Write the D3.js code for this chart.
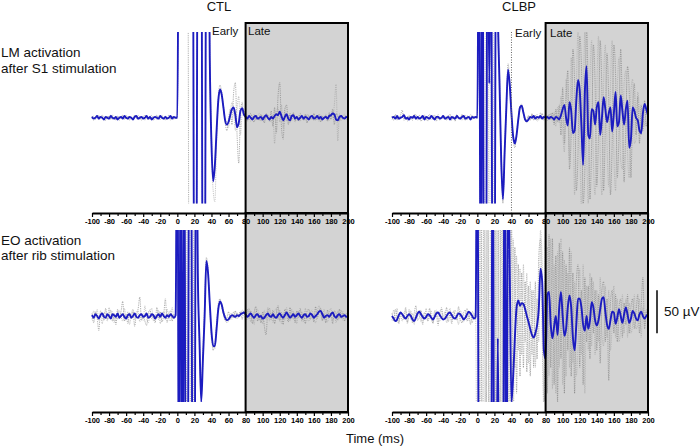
<!DOCTYPE html>
<head>
    <meta charset="utf-8">
    <title>LM / EO activation traces</title>
    <script src="https://d3js.org/d3.v7.min.js"></script>
    <style>
        body { margin: 0; background: #fff; }
        svg text { font-family: "Liberation Sans", Arial, sans-serif; }
    </style>
</head>

<body>
    <div id="home"></div>

    <script>
        // sample times (ms), one value every 2 ms from -100 to 200
        const sampleTimes = d3.range(-100, 201, 2);
        const majorTicks = [-100, -80, -60, -40, -20, 0, 20, 40, 60, 80, 100, 120, 140, 160, 180, 200];
        const minorTicks = [-90, -70, -50, -30, -10, 10, 30, 50, 70, 90, 110, 130, 150, 170, 190];

        // values in µV (±300 = off scale, stimulus artefact)
        // LM, CTL
        const lmCtlMean = [
            1,-1,0,2,-1,1,0,-2,1,0, -1,2,0,-1,1,-2,0,1,-1,2, 0,-1,1,0,-2,1,2,-1,0,1, -1,0,2,-1,1,-2,0,1,0,-1, 2,0,-1,1,-1,0,2,-1,1,0,
            0,300,300,300,300,300,300,300,300,300, -300,-300,300,300,300,-300,-300,300,300,70, -30,-74,-55,-15,20,33,27,12,-3,-8, -5,3,10,12,3,-11,-6,8,11,4,
            1,-1,2,0,-2,1,2,-1,0,1, -2,1,3,0,-2,1,-1,2,4,3, 7,2,-3,1,4,-1,-3,2,3,-1, 1,-2,0,2,-1,1,0,-2,1,2, -1,0,2,-1,1,-2,0,1,-1,2, 3,5,4,-2,-3,1,2,0,-1,1,0
        ];
        const lmCtlTrialA = [
            2,-3,1,3,-2,0,3,-1,-3,2, 1,-2,3,0,-3,2,-1,1,3,-2, 0,2,-3,1,-1,3,0,-2,2,-3, 1,3,-1,-2,2,0,-3,1,3,-1, -2,2,1,-3,0,3,-1,2,-2,1,
            0,300,300,300,300,300,300,-300,-300,-300, -300,-300,300,300,300,-300,-300,300,300,80, -20,-70,-60,-20,25,38,30,15,-5,-15, -2,10,-8,30,41,-20,-53,5,18,2,
            3,-4,2,5,-2,-5,3,1,-3,4, -1,-6,5,2,-4,8,-10,12,-18,25, 41,-10,-25,10,15,-8,5,-3,6,-5, 2,-4,5,1,-3,4,-6,3,0,-2, 5,-3,1,4,-5,2,-1,3,-4,6, -2,10,-8,5,2,-4,3,-2,1,2,-1
        ];
        const lmCtlTrialB = [
            -1,2,-2,0,3,-1,1,-3,2,-1, 0,3,-2,1,-1,2,-3,0,2,-1, 3,-2,0,1,-3,2,-1,3,-2,0, 1,-3,2,1,-2,3,-1,0,-2,2, 3,-1,-2,2,-1,1,-3,2,0,-1,
            0,300,300,300,300,300,300,300,300,300, -300,-300,300,300,300,-300,-300,300,300,60, -40,-85,-98,-30,15,30,25,10,-2,-5, -12,5,18,8,-15,10,25,-20,5,10,
            -2,3,-1,-4,2,4,-3,2,5,-4, 2,-3,1,4,-2,-5,3,-30,5,12, -5,15,-12,8,-4,3,-6,2,5,-3, 1,3,-4,2,-1,-3,4,1,-2,3, -3,2,-1,-4,3,1,-2,4,-1,-3, 2,0,15,39,-27,5,-3,2,4,-2,1
        ];

        // EO, CTL
        const eoCtlMean = [
            1,-2,2,0,-3,1,3,-1,-2,2, 0,-3,2,1,-1,3,-2,0,2,-1, -3,1,2,-2,0,3,-1,-2,1,2, -1,0,3,-2,-1,2,1,-3,0,2, -1,3,0,-2,1,-1,2,0,-2,1,
            300,-300,300,-300,300,-300,-300,300,300,-300, -300,300,50,-30,-100,-50,0,64,50,15, -18,-35,-35,-15,8,17,13,4,-2,-5, -4,-1,1,0,-1,1,0,2,3,4,
            2,-1,1,3,0,-2,1,2,-1,0, -3,-2,1,3,0,-1,2,-1,-2,1, 3,0,-2,1,4,1,-2,0,2,-1, 1,3,0,-2,1,2,-1,0,3,1, -2,0,2,5,6,2,-2,0,1,-1, 2,4,0,-2,1,2,-1,0,1,-1,0
        ];
        const eoCtlTrialA = [
            3,-8,5,-2,-17,6,2,-5,9,-4, 1,7,-6,3,-10,8,-3,5,17,-6, 2,-9,4,-2,6,-12,3,8,22,-5, 1,-6,-11,4,7,-3,2,-8,10,-4, 5,-7,1,20,-8,3,6,-6,2,0,
            300,-300,300,-300,300,-300,300,300,-300,-300, 300,300,60,-40,-90,-40,15,68,55,12, -22,-40,-30,-8,14,20,10,2,-6,-3, 5,-4,3,-2,6,-3,2,5,-4,6,
            -5,8,-3,6,-9,4,11,-6,3,-8, 5,-12,-22,6,9,-4,7,-9,3,12, -6,4,-10,8,2,-7,10,-3,5,-8, 6,-2,9,-6,3,-9,5,8,-4,2, -7,11,-3,6,9,-5,2,-8,7,-2, 4,-9,6,3,-5,8,-3,5,-6,3,-2
        ];
        const eoCtlTrialB = [
            -4,6,-2,8,-5,1,-9,4,3,-6, 10,-3,5,-8,2,-4,7,-1,-6,9, -3,5,-10,2,8,-4,-2,6,-7,3, -5,12,-2,-8,4,9,-6,1,-3,7, -9,2,5,-4,8,-2,-6,10,-3,1,
            300,-300,300,-300,300,-300,-300,300,300,-300, -300,300,40,-20,-95,-55,5,58,48,8, -28,-33,-38,-12,9,16,15,7,1,-8, -6,3,-4,5,-3,4,-2,1,7,3,
            6,-4,9,-7,3,-10,5,8,-5,2, -9,7,-4,10,-6,3,-8,5,9,-4, 7,-9,3,-5,10,-2,-6,8,-4,3, -9,6,-2,5,-7,9,-3,-6,4,7, -4,-8,5,12,3,-6,8,-3,-7,4, 9,-5,2,-8,6,-3,7,-5,3,-4,2
        ];

        // LM, CLBP
        const lmClbpMean = [
            0,1,-1,2,-1,0,1,3,-1,0, -2,1,0,2,-1,1,-1,0,2,-2, 1,0,-1,2,0,-2,1,1,-1,0, 2,-1,0,1,-2,1,0,-1,2,0, -1,1,2,-1,0,1,-2,1,0,1,
            0,300,-300,300,-300,-300,300,40,300,-300, -300,300,125,40,-50,-95,-40,12,56,38, 5,-22,-30,-20,-2,12,14,6,-2,-4, -2,1,0,2,-1,1,0,2,-1,1,
            0,1,-1,1,0,-2,1,0,-2,3, 10,15,0,-9,18,8,-18,-15,20,44, 32,-10,-55,30,60,-20,-24,10,8,-8, 12,18,-20,0,24,10,-5,5,12,-16, 5,30,-10,-5,26,8,-8,10,20,-35, -25,12,8,0,-3,-15,-18,5,16,10,3
        ];
        const lmClbpTrialA = [
            2,-3,4,-1,-2,3,9,-3,1,-4, 2,0,-3,4,-2,1,3,-4,0,2, -3,1,4,-2,-1,3,-4,2,0,-2, 3,-1,-3,2,4,-2,1,-4,3,0, -2,4,-1,-3,2,1,-2,3,-1,2,
            0,300,-300,300,-300,-300,300,60,300,-300, -300,300,140,50,-45,-100,-35,20,63,42, 8,-25,-35,-18,0,15,12,4,-4,-2, 2,-3,4,-2,3,-4,2,-1,5,-3,
            2,-3,4,-2,6,-8,10,-5,15,-20, 35,-30,20,55,-60,-20,80,40,-85,-40, 95,60,-100,-60,110,20,-95,-30,85,40, -80,-20,90,30,-85,-10,75,20,-90,-30, 85,50,-70,-20,80,10,-75,-10,60,30, -70,10,40,-20,25,-30,15,-15,20,-10,5
        ];
        const lmClbpTrialB = [
            -2,1,3,-3,2,-1,0,4,-2,1, 3,-2,-1,2,4,-3,0,1,-2,3, 2,-4,1,0,3,-1,-2,4,-3,1, 0,2,-2,3,-1,-3,2,0,4,-2, 1,-3,2,3,-2,-1,4,-2,1,-1,
            0,300,300,-300,-300,300,300,-300,300,300, -300,300,110,30,-60,-90,-45,5,50,35, 0,-20,-28,-22,-5,10,16,8,0,-6, 3,-2,5,-3,2,4,-3,6,-2,3,
            0,3,-2,5,-4,6,-10,12,-6,25, -15,-40,45,10,-50,70,15,-90,30,100, -20,-110,10,100,-30,-100,40,90,-50,-90, 30,95,-40,-90,40,85,-30,-80,35,90, -40,-85,30,70,-50,-60,40,55,-40,-70, 30,45,-30,-25,30,10,-20,8,-10,6,-3
        ];

        // EO, CLBP
        const eoClbpMean = [
            0,-3,-6,-4,1,4,2,-1,-3,0, 2,0,-4,-6,-2,3,5,2,-1,-3, -1,2,1,-2,-4,-1,3,4,1,-2, -4,-3,0,3,4,1,-2,-3,0,3, 2,-1,-4,-2,2,5,3,0,-3,-1,
            300,-300,-300,-300,-300,-300,-300,-300,-300,300, -300,-300,-26,-300,-300,-300,300,-300,200,50, -100,-70,-25,10,18,12,15,14,8,0, -7,-15,-22,-25,-20,-11,8,55,40,-40,
            -50,25,28,-10,-26,-12,0,-22,10,28, 0,-23,-15,10,24,10,-25,-40,-10,20, 20,10,-10,-17,0,-15,-5,16,10,-5, -11,-5,8,20,22,5,-10,-15,-5,5, 4,-9,-2,8,0,-8,2,10,2,-8, -3,6,3,-3,-5,2,5,0,-3,0,2
        ];
        const eoClbpTrialA = [
            3,-6,8,-2,-9,5,2,-4,10,-7, 0,6,-8,3,12,-5,-2,7,-10,4, 1,-6,9,-3,-8,6,2,-11,5,8, -4,-1,10,-7,3,-9,6,0,-5,11, -3,-8,4,7,-6,2,-10,5,3,-4,
            300,-300,300,-300,300,-300,300,-300,300,-300, 300,-300,300,-300,250,-280,200,-250,180,-200, 120,-150,80,-90,60,-70,50,-60,40,-65, 35,-70,30,-60,40,-50,70,90,-20,-110,
            100,-90,95,-60,90,-80,70,-100,85,-50, 75,-90,60,-40,80,-70,50,-90,40,60, -60,30,-80,45,-30,35,-50,45,-20,30, -40,25,-55,30,40,-30,20,-75,15,30, -20,25,-30,10,20,-25,15,-10,25,-20, 10,20,-15,5,25,-20,10,45,-15,5,0
        ];
        const eoClbpTrialB = [
            -5,7,-3,9,-8,2,-6,4,6,-9, 8,-4,3,-10,5,-1,7,-7,2,-3, 9,-5,-2,6,-9,3,7,-4,-6,10, -2,5,-8,2,9,-5,-3,7,-1,-10, 6,3,-7,1,9,-5,4,-8,2,0,
            -300,300,-300,300,300,-300,300,-300,-300,300, -300,300,-300,300,-300,150,-200,250,-160,140, -120,90,-60,70,-40,55,-45,60,-30,50, -55,40,-45,30,-60,20,-30,100,60,-90,
            -100,80,-70,90,-85,60,-90,75,-60,90, -80,65,-70,50,-60,75,-55,40,-70,-30, 55,-45,60,-90,35,-40,50,-35,40,-45, 30,-30,45,-20,-35,35,-25,30,-40,-10, 35,-25,20,-30,-15,25,-20,20,-25,15, -20,-10,25,-15,-10,20,-25,10,-10,8,-3
        ];

        const w = 700;
        const h = 447;

        const svg = d3.select("#home")
                      .append("svg")
                      .attr("width", w)
                      .attr("height", h)

        const xLeft = d3.scaleLinear().domain([-100, 200]).range([92, 348]);
        const xRight = d3.scaleLinear().domain([-100, 200]).range([392, 648]);
        const yTop = d3.scaleLinear().domain([-100, 100]).range([203.5, 32]);
        const yBottom = d3.scaleLinear().domain([-100, 100]).range([402, 230]);

        const panels = [
            {id: "lmctl", x: xLeft, y: yTop, axisY: 213, shadeTop: 23, mean: lmCtlMean, trials: [lmCtlTrialA, lmCtlTrialB]},
            {id: "lmclbp", x: xRight, y: yTop, axisY: 213, shadeTop: 23, mean: lmClbpMean, trials: [lmClbpTrialA, lmClbpTrialB]},
            {id: "eoctl", x: xLeft, y: yBottom, axisY: 412, shadeTop: 213, mean: eoCtlMean, trials: [eoCtlTrialA, eoCtlTrialB]},
            {id: "eoclbp", x: xRight, y: yBottom, axisY: 412, shadeTop: 213, mean: eoClbpMean, trials: [eoClbpTrialA, eoClbpTrialB]}
        ];

        //Late window shading (fill first, border drawn last)
        panels.forEach(function(p){
            svg.append("rect")
               .attr("x", p.x(80))
               .attr("y", p.shadeTop)
               .attr("width", p.x(200) - p.x(80))
               .attr("height", p.axisY - p.shadeTop)
               .style("fill", "#d3d3d3")
        });

        //Traces
        panels.forEach(function(p){
            svg.append("clipPath")
               .attr("id", "clip-" + p.id)
               .append("rect")
               .attr("x", p.x(-100) - 2)
               .attr("y", p.y(100))
               .attr("width", p.x(200) - p.x(-100) + 4)
               .attr("height", p.y(-100) - p.y(100))

            const line = d3.line()
                           .x((d, i) => p.x(sampleTimes[i]))
                           .y((d) => p.y(d))
                           .curve(d3.curveMonotoneX)

            const g = svg.append("g").attr("clip-path", "url(#clip-" + p.id + ")")

            p.trials.forEach(function(tr, k){
                g.append("path")
                 .attr("d", line(tr))
                 .style("fill", "none")
                 .style("stroke", k === 0 ? "#7a7a7a" : "#a2a2a2")
                 .style("stroke-width", 0.6)
                 .style("stroke-dasharray", "1.2,1")
            });

            g.append("path")
             .attr("d", line(p.mean))
             .style("fill", "none")
             .style("stroke", "#1c1cc0")
             .style("stroke-width", 1.9)
             .style("stroke-linejoin", "round")
        });

        //Axes
        panels.forEach(function(p){
            const axis = svg.append("g")
                            .attr("transform", "translate(0," + p.axisY + ")")
                            .call(d3.axisBottom(p.x).tickValues(majorTicks).tickSize(4).tickSizeOuter(0).tickPadding(2)
                                    .tickFormat((d) => String(d)))
                            .attr("font-size", 7.5)
                            .attr("font-weight", "bold")
                            .attr("font-family", "'Liberation Sans', Arial, sans-serif")
            axis.select(".domain").attr("stroke-width", 1.8)
            axis.selectAll(".tick line").attr("stroke-width", 1.2)

            const minor = svg.append("g")
                             .attr("transform", "translate(0," + p.axisY + ")")
                             .call(d3.axisBottom(p.x).tickValues(minorTicks).tickSize(3).tickFormat(""))
            minor.select(".domain").remove()
            minor.selectAll(".tick line").attr("stroke-width", 1.2)
        });

        //Late window borders
        panels.forEach(function(p){
            svg.append("rect")
               .attr("x", p.x(80))
               .attr("y", p.shadeTop)
               .attr("width", p.x(200) - p.x(80))
               .attr("height", p.axisY - p.shadeTop)
               .style("fill", "none")
               .style("stroke", "black")
               .style("stroke-width", 2)
        });

        //Early/late divider in CLBP, LM
        svg.append("line")
           .attr("x1", xRight(40))
           .attr("x2", xRight(40))
           .attr("y1", yTop(100))
           .attr("y2", 213)
           .style("stroke", "#666")
           .style("stroke-width", 1)
           .style("stroke-dasharray", "1,1.5")

        //Scale bar 50 µV
        svg.append("line")
           .attr("x1", xRight(200) + 9)
           .attr("x2", xRight(200) + 9)
           .attr("y1", yBottom(30))
           .attr("y2", yBottom(-20))
           .style("stroke", "black")
           .style("stroke-width", 1.5)

        //Texts
        const labels = [
            {t: "CTL", x: 219, y: 11, s: 13, a: "middle"},
            {t: "CLBP", x: 519, y: 11, s: 13, a: "middle"},
            {t: "LM activation", x: 1, y: 57, s: 13.5, a: "start"},
            {t: "after S1 stimulation", x: 1, y: 72.5, s: 13.5, a: "start"},
            {t: "EO activation", x: 1, y: 244.5, s: 13.5, a: "start"},
            {t: "after rib stimulation", x: 1, y: 259.5, s: 13.5, a: "start"},
            {t: "Early", x: 212, y: 34.5, s: 11.5, a: "start"},
            {t: "Late", x: 248, y: 34.5, s: 11.5, a: "start"},
            {t: "Early", x: 515, y: 37, s: 11.5, a: "start"},
            {t: "Late", x: 550, y: 37, s: 11.5, a: "start"},
            {t: "Time (ms)", x: 375, y: 443, s: 13, a: "middle"},
            {t: "50 µV", x: 664, y: 316, s: 13.5, a: "start"}
        ];
        svg.selectAll("text.lbl")
           .data(labels)
           .enter()
           .append("text")
           .attr("class", "lbl")
           .attr("x", (d) => d.x)
           .attr("y", (d) => d.y)
           .attr("text-anchor", (d) => d.a)
           .style("font-size", (d) => d.s + "px")
           .style("fill", "#111")
           .text((d) => d.t)
    </script>

</body>
